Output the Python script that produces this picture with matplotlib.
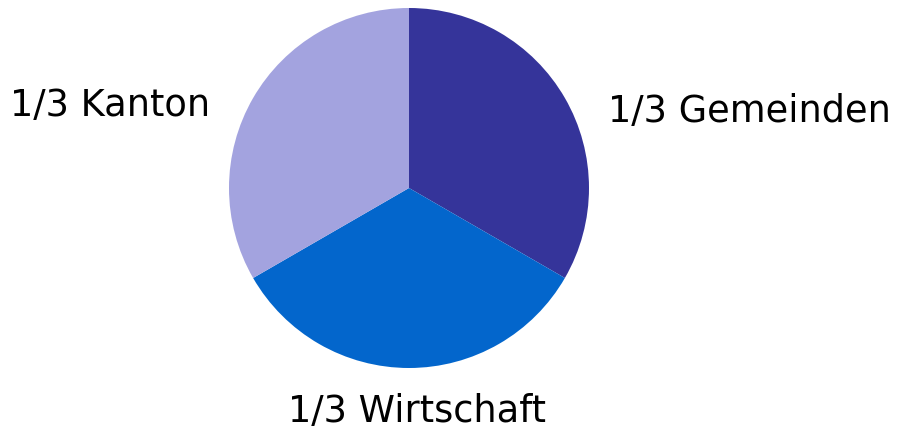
import numpy as np
import matplotlib.pyplot as plt

labels = ['1/3 Gemeinden', '1/3 Wirtschaft', '1/3 Kanton']
shares = [1, 1, 1]
colors = ['#35349A', '#0366CC', '#A3A3DF']

W, H = 900, 429
fig = plt.figure(figsize=(W / 100, H / 100), dpi=100)
cx, cy, r = 409, 188, 180
ax = fig.add_axes([(cx - r) / W, 1 - (cy + r) / H, 2 * r / W, 2 * r / H])
ax.pie(shares, colors=colors, startangle=90, counterclock=False,
       wedgeprops=dict(linewidth=0))
ax.set_xlim(-1, 1)
ax.set_ylim(-1, 1)
ax.set_aspect('equal')
ax.axis('off')

font = dict(fontsize=26.5, family='DejaVu Sans', color='black', va='center')
fig.text(608 / W, 1 - 112 / H, labels[0], ha='left', **font)
fig.text(417 / W, 1 - 411 / H, labels[1], ha='center', **font)
fig.text(10 / W, 1 - 105 / H, labels[2], ha='left', **font)

fig.savefig('out.png', dpi=100)
